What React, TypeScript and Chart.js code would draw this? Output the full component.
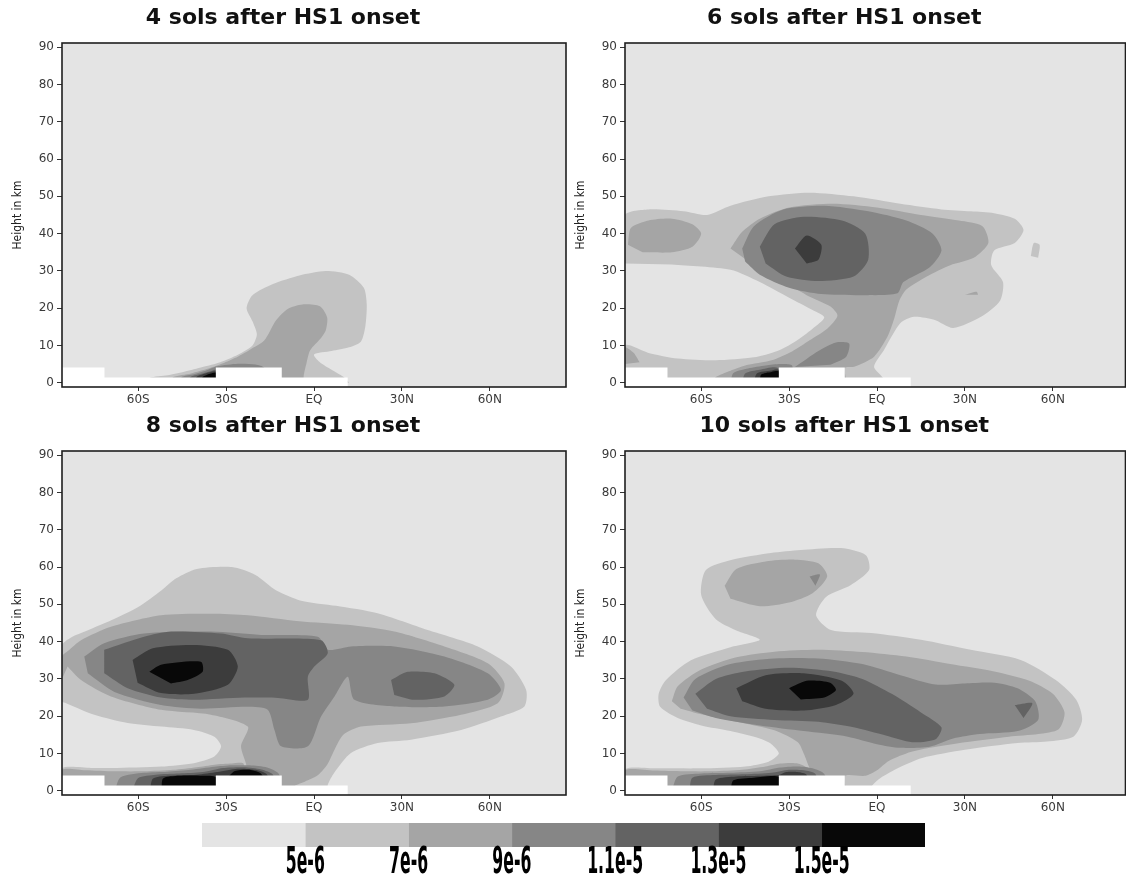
import React, { useEffect, useRef } from "react";
import { Chart, registerables } from "chart.js";
Chart.register(...registerables);

type Pt = [number, number];

const LEVEL_COLORS = ["#e4e4e4", "#c3c3c3", "#a5a5a5", "#868686", "#636363", "#3c3c3c", "#080808"];
const LEVEL_LABELS = ["5e-6", "7e-6", "9e-6", "1.1e-5", "1.3e-5", "1.5e-5"];
const PANEL_TITLES = ["4 sols after HS1 onset", "6 sols after HS1 onset", "8 sols after HS1 onset", "10 sols after HS1 onset"];
const Y_TICKS = [0, 10, 20, 30, 40, 50, 60, 70, 80, 90];
const X_TICKS = [-60, -30, 0, 30, 60];
const X_TICK_LABELS = ["60S", "30S", "EQ", "30N", "60N"];
const Y_RANGE: Pt = [-1.15, 91.15];
const X_RANGE_LEFT: Pt = [-86, 86];
const X_RANGE_RIGHT: Pt = [-86, 84.8];

// topography mask (white)
const TOPO: Pt[] = [[-88, -2], [-88, 4.1], [-71.5, 4.1], [-71.5, 1.4], [-33.5, 1.4], [-33.5, 4.1], [-11, 4.1], [-11, 1.4], [11.5, 1.4], [11.5, -2]];

// ---- 4 sols ----
const S4_L1: Pt[] = [[-57, 0], [-56, 1.3], [-50, 2], [-44, 3], [-38, 4.2], [-32, 5.5], [-26, 7.5], [-21, 10], [-19.5, 13], [-21, 16.5], [-23, 20], [-21, 23.5], [-14, 26.5], [-5, 28.8], [4, 30], [12, 29], [17, 25.5], [18, 21], [17.5, 15], [16, 11], [12, 9.5], [6, 8.5], [0, 7.6], [2, 5.5], [6, 3.5], [10, 1.6], [12, 0]];
const S4_L2: Pt[] = [[-49, 0], [-48, 1.5], [-42, 2.5], [-36, 3.8], [-31, 5.2], [-27, 6.6], [-22, 8.8], [-17, 11.3], [-13, 16.7], [-9, 19.8], [-4, 21], [2, 20.5], [4.5, 17.5], [4, 14], [2.4, 12], [-1.3, 8.7], [-2.6, 5.1], [-3.5, 2], [-3.5, 0]];
const S4_L3B: Pt[] = [[-46, 0], [-45, 1.6], [-41, 2.3], [-37, 3.2], [-33, 4.4], [-26, 5.1], [-20, 4.9], [-17, 4], [-17, 0]];
const S4_L4B: Pt[] = [[-43, 0], [-42, 1.6], [-38, 2.5], [-34.5, 3.3], [-33.5, 3.4], [-33.5, 0]];
const S4_L5B: Pt[] = [[-40.5, 0], [-40, 1.6], [-37, 2.5], [-33.5, 3], [-33.5, 0]];
const S4_L6B: Pt[] = [[-38.5, 0], [-38, 1.5], [-35.5, 2.4], [-33.5, 2.7], [-33.5, 0]];

// ---- 6 sols ----
const S6_L1: Pt[] = [[-86, 32], [-86, 45], [-78, 46.5], [-66, 46], [-58, 45], [-50, 47.5], [-37, 50], [-23, 51], [-8, 50], [8, 48], [22, 46.5], [32, 46], [40, 45.5], [47, 44], [50, 41], [47, 37.5], [40, 35.5], [39, 31.5], [43, 27], [42, 22], [35.5, 17.7], [26, 14.7], [19.5, 16.9], [12.6, 17.7], [8, 16], [2.4, 8.8], [-1, 4.3], [2, 1.3], [2, 0], [-86, 0], [-86, 10], [-78, 8], [-68, 6.5], [-55, 6], [-42, 6.8], [-34, 8.5], [-28, 11], [-22, 14.5], [-18, 17.5], [-22, 19.5], [-30, 22.8], [-40, 27], [-50, 30.3], [-70, 31.7]];
const S6_L1_SPOT: Pt[] = [[52.5, 34], [53.5, 37.5], [55.5, 37], [55, 33.5]];
const S6_L2: Pt[] = [[-50, 36], [-46, 40.5], [-40, 44], [-30, 47], [-15, 48], [0, 47], [15, 45], [28, 43.5], [36, 42], [38, 37.5], [33, 33.5], [25, 31.5], [17, 28.5], [10, 25], [7.6, 22], [5.8, 17], [3.6, 12.4], [-1, 7], [-7.8, 4.3], [-11, 4], [-11, 0], [-56, 0], [-55, 1.5], [-50, 3.2], [-45, 4.6], [-36, 6], [-29, 8.4], [-23, 11.4], [-17, 14.5], [-13.5, 18], [-16, 20.5], [-24, 23.5], [-34, 28], [-42, 31.5]];
const S6_L2_LOBE: Pt[] = [[-85, 37], [-84, 41.5], [-78, 43.5], [-70, 44], [-63, 42.5], [-60, 40], [-63, 36.5], [-70, 35], [-80, 35]];
const S6_L2_EDGE: Pt[] = [[-86, 5], [-86, 9.5], [-83, 8], [-81, 5.5]];
const S6_L2_DASH: Pt[] = [[30, 23.6], [34, 24.4], [34.5, 23.6]];
const S6_L3: Pt[] = [[-46, 36], [-42, 42], [-32, 46.5], [-18, 47.5], [-3, 46], [10, 43.5], [19, 40], [22, 35.5], [18, 31], [9, 27], [7, 24], [-3, 23.5], [-19, 23.8], [-30, 25.5], [-40, 29], [-45, 32.5]];
const S6_L3_TAIL: Pt[] = [[-28, 4.2], [-20, 8.5], [-14, 10.8], [-9.5, 10.5], [-10.5, 7], [-16, 4.8]];
const S6_L3B: Pt[] = [[-50, 0], [-49, 2.6], [-44, 3.8], [-38, 4.6], [-33, 5], [-29, 4.6], [-29, 0]];
const S6_L4: Pt[] = [[-40, 36.5], [-35, 42.5], [-25, 44.5], [-12, 43.5], [-4, 40], [-3, 33], [-8, 28.5], [-20, 27.3], [-31, 28.5], [-38, 32]];
const S6_L4B: Pt[] = [[-46, 0], [-45, 2.5], [-40, 3.5], [-34, 4], [-33.5, 0]];
const S6_L5: Pt[] = [[-28, 36], [-24, 39.5], [-19, 37], [-20, 33], [-24, 32]];
const S6_L5B: Pt[] = [[-42, 0], [-41, 2.5], [-36, 3.3], [-33.5, 3.4], [-33.5, 0]];
const S6_L6B: Pt[] = [[-40, 0], [-39.5, 2.2], [-36, 2.9], [-33.5, 3], [-33.5, 0]];

// ---- 8 sols ----
const S8_L1: Pt[] = [[-86, 0], [-86, 6], [-76, 6.1], [-69, 6.1], [-52, 6.5], [-41, 7.4], [-34, 9.2], [-31.7, 11.9], [-34, 14.5], [-41, 16.3], [-52, 17.2], [-63.6, 18.2], [-75, 20.4], [-84.6, 23.5], [-86, 24], [-86, 39], [-82, 41.5], [-79.5, 42.3], [-69, 45.8], [-60, 49.3], [-52, 53.8], [-47, 57], [-40, 59.5], [-28, 60], [-20, 57.9], [-13, 53.8], [-4.4, 51], [7.5, 49.6], [21.7, 47.6], [38.8, 43.1], [55.9, 38.7], [67.2, 33.3], [72.4, 27], [71.8, 22.6], [63.8, 19.9], [50.2, 16.3], [33.1, 13.7], [21.7, 12.8], [12.6, 10.1], [6.9, 4.8], [4.7, 1.6], [4.7, 0]];
const S8_L2: Pt[] = [[-86, 30], [-86, 36], [-84, 37.5], [-79.5, 40.4], [-69.3, 44], [-52.2, 47.1], [-35, 47.5], [-22.6, 47.1], [-5, 45.5], [11.5, 44.5], [27.4, 42.7], [44.5, 38.7], [59.3, 34.2], [65, 28.8], [62.7, 23.5], [50.2, 20.4], [33.1, 18.1], [16, 17.2], [10, 15], [7, 11], [4.5, 7], [1, 4], [-3, 2.5], [-6.5, 1.3], [-7, 0], [-23, 0], [-23, 6.5], [-24.9, 11.9], [-22.6, 17.2], [-35.2, 20.4], [-52.2, 21.7], [-69.3, 25.3], [-79.5, 29.7], [-84.1, 33.3]];
const S8_L2B: Pt[] = [[-86, 0], [-86, 5.6], [-78, 5.5], [-68, 5.2], [-58, 5.2], [-48, 5.6], [-40, 6.3], [-34, 7], [-28, 7.3], [-24, 7.2], [-24, 0]];
const S8_L3: Pt[] = [[-78.4, 36], [-71.6, 39.6], [-58, 42.2], [-35.2, 42.7], [-18.1, 41.8], [1.3, 41.3], [4.7, 37.8], [12.6, 38.7], [27.4, 38.7], [44.5, 36], [59.3, 31.5], [63.8, 27], [59.3, 24.4], [44.5, 22.6], [27.4, 22.6], [13.8, 24.4], [11.5, 30.6], [7, 25.3], [2.4, 19.9], [-2.1, 11.9], [-11.2, 11.9], [-13.5, 16.3], [-15.8, 21.7], [-22.6, 22.5], [-38.6, 22], [-52.2, 23], [-68.1, 26.5], [-77.2, 31.5]];
const S8_L3B: Pt[] = [[-68, 0], [-66, 3.6], [-58, 4.8], [-50, 5.1], [-42, 5.6], [-34, 6.4], [-28, 6.8], [-22, 6.8], [-16, 6.2], [-12, 4.5], [-11, 0]];
const S8_L4: Pt[] = [[-71.6, 37.8], [-58, 41.3], [-48.8, 42.7], [-31.7, 42.2], [-22.6, 40.9], [2.4, 40.4], [4.7, 36.9], [0.1, 33.3], [-2.1, 30.6], [-2.1, 24.4], [-12.3, 24.9], [-23.8, 25], [-40.9, 24.4], [-52.2, 25], [-63.6, 27.5], [-71.6, 31.5]];
const S8_L4R: Pt[] = [[26.3, 29.7], [32, 31.9], [41.1, 31.5], [47.9, 28.4], [44.5, 25.3], [34.2, 24.4], [27.4, 25.7]];
const S8_L4B: Pt[] = [[-62, 0], [-60, 3.4], [-54, 4.3], [-46, 4.6], [-38, 5], [-31, 6.1], [-24, 6.3], [-18, 5.7], [-14, 4.3], [-13, 0]];
const S8_L5: Pt[] = [[-61.9, 35.1], [-55, 38.2], [-41.4, 39.1], [-29.4, 37.8], [-26, 33.3], [-29.4, 28.4], [-40.9, 26], [-52.2, 26.2], [-60.2, 29]];
const S8_L5B: Pt[] = [[-56, 0], [-55, 3.2], [-50, 4], [-40, 4.3], [-33, 5], [-26, 5.9], [-20, 5.6], [-16, 4.3], [-15, 0]];
const S8_L6: Pt[] = [[-56.2, 31.9], [-52.2, 33.8], [-38.6, 34.6], [-38, 31.9], [-43.1, 29.7], [-48.8, 28.8]];
const S8_L6B: Pt[] = [[-52, 0], [-51.5, 3.3], [-46, 4], [-38, 4], [-33.5, 3.6], [-33.5, 0]];
const S8_L6B2: Pt[] = [[-29, 4], [-27, 5.3], [-22, 5.6], [-18.5, 4.8], [-17.5, 4]];

// ---- 10 sols ----
const S10_L1: Pt[] = [[-86, 0], [-86, 5.8], [-75, 6], [-60, 6], [-45, 6.5], [-37, 7.8], [-33.5, 10], [-36, 12.5], [-40, 14], [-50, 16], [-60, 17.5], [-68, 19.5], [-74, 22.5], [-74.5, 26], [-72, 29.7], [-63.5, 35], [-50, 38.5], [-40, 40.5], [-48, 43], [-55, 46], [-60, 52.5], [-58.4, 59.2], [-49.8, 61.9], [-36.2, 63.8], [-26, 64.6], [-12.3, 65.1], [-3.8, 63.2], [-2.7, 59.2], [-8.9, 55.2], [-17.4, 52], [-20.8, 47.1], [-15.7, 43.1], [-2, 42.3], [15, 40.5], [32, 37.8], [49, 35.1], [61, 29.7], [68, 24.4], [70, 19], [67, 14.5], [58, 13.2], [48, 12.8], [30, 11], [15.4, 8.8], [6.7, 5.9], [0.6, 3.1], [-1.9, 1.1], [-2, 0]];
const S10_L2: Pt[] = [[-70, 24], [-68, 28], [-60, 32.5], [-48, 35.8], [-35, 37.3], [-20, 37.8], [-5, 37.2], [10, 36], [25, 34], [40, 32], [52, 29.5], [60, 26], [64, 21], [62, 16.5], [55, 15.2], [45, 14.5], [30, 13], [18, 11.5], [10, 10], [4, 8], [0, 5.5], [-4, 4], [-11, 4], [-11, 0], [-22, 0], [-22, 4], [-23.5, 7], [-25, 10], [-27, 13], [-35, 16.2], [-48, 18.5], [-60, 20.5], [-67, 22]];
const S10_L2_LOBE: Pt[] = [[-52, 55], [-48, 59.5], [-38, 61.5], [-28, 62], [-20, 61], [-17, 57.5], [-22, 53], [-30, 50.5], [-40, 49.5], [-50, 51.5]];
const S10_L2B: Pt[] = [[-86, 0], [-86, 5.5], [-76, 5.4], [-66, 5.2], [-56, 5.2], [-46, 5.6], [-38, 6.5], [-33, 7.3], [-27, 7.3], [-22, 5], [-22, 0]];
const S10_L3: Pt[] = [[-66, 25], [-62, 30], [-50, 34], [-35, 35.5], [-20, 35.5], [-5, 34], [8, 31], [20, 28.5], [30, 28.8], [40, 29], [48, 27.5], [54, 24], [55, 19], [48, 16], [35, 15.2], [26, 14], [18, 11.8], [8, 11.5], [0, 12.5], [-10, 14.5], [-25, 16], [-40, 17.5], [-55, 19.5], [-63, 21.5]];
const S10_L3_TRI: Pt[] = [[-23, 57.5], [-19.5, 58], [-21, 55]];
const S10_L3B: Pt[] = [[-70, 0], [-68, 3.8], [-60, 4.6], [-50, 4.8], [-40, 5.2], [-33, 6.2], [-27, 6.5], [-22, 6], [-18, 4.5], [-16, 0]];
const S10_L4: Pt[] = [[-62, 26], [-55, 30], [-45, 32], [-30, 33], [-15, 32], [-5, 30], [5, 26], [15, 21], [22, 17], [20, 13.8], [12, 13], [3, 14.8], [-8, 17], [-20, 18.5], [-35, 19], [-50, 20], [-58, 22]];
const S10_L4_TRI: Pt[] = [[47, 23], [53, 23.5], [50, 19.5]];
const S10_L4B: Pt[] = [[-64, 0], [-63, 3.5], [-55, 4.2], [-45, 4.4], [-36, 4.8], [-30, 5.6], [-25, 5.5], [-21, 4.5], [-20, 0]];
const S10_L5: Pt[] = [[-48, 27.5], [-38, 31], [-25, 31.5], [-12, 29.5], [-8, 26], [-14, 23], [-25, 21.5], [-38, 22], [-46, 24]];
const S10_L5B: Pt[] = [[-56, 0], [-55, 3], [-48, 3.8], [-40, 4], [-33.5, 4.2], [-31, 5], [-27, 5], [-24, 4.2], [-24, 0]];
const S10_L6: Pt[] = [[-30, 27.5], [-24, 29.5], [-16, 29], [-14, 27], [-18, 25], [-26, 24.5]];
const S10_L6B: Pt[] = [[-50, 0], [-49, 2.8], [-42, 3.5], [-33.5, 3.7], [-33.5, 0]];

// [level, polygon] in painting order (lighter first)
const PANEL_REGIONS: [number, Pt[]][][] = [
  [[1, S4_L1], [2, S4_L2], [3, S4_L3B], [4, S4_L4B], [5, S4_L5B], [6, S4_L6B]],
  [[1, S6_L1], [1, S6_L1_SPOT], [2, S6_L2], [2, S6_L2_LOBE], [2, S6_L2_EDGE], [2, S6_L2_DASH], [3, S6_L3], [3, S6_L3_TAIL], [3, S6_L3B], [4, S6_L4], [4, S6_L4B], [5, S6_L5], [5, S6_L5B], [6, S6_L6B]],
  [[1, S8_L1], [2, S8_L2], [2, S8_L2B], [3, S8_L3], [3, S8_L3B], [4, S8_L4], [4, S8_L4R], [4, S8_L4B], [5, S8_L5], [5, S8_L5B], [6, S8_L6], [6, S8_L6B], [6, S8_L6B2]],
  [[1, S10_L1], [2, S10_L2], [2, S10_L2_LOBE], [2, S10_L2B], [3, S10_L3], [3, S10_L3_TRI], [3, S10_L3B], [4, S10_L4], [4, S10_L4_TRI], [4, S10_L4B], [5, S10_L5], [5, S10_L5B], [6, S10_L6], [6, S10_L6B]],
];

const PANEL_W = 575;
const PANEL_H = 410;

const panelFrame = {
  id: "panelFrame",
  beforeDatasetsDraw(chart: any) {
    const { ctx, chartArea: a } = chart;
    ctx.save();
    ctx.fillStyle = LEVEL_COLORS[0];
    ctx.fillRect(a.left, a.top, a.right - a.left, a.bottom - a.top);
    ctx.restore();
  },
  afterDatasetsDraw(chart: any) {
    const { ctx, chartArea: a } = chart;
    ctx.save();
    ctx.strokeStyle = "#1e1e1e";
    ctx.lineWidth = 1.6;
    ctx.strokeRect(a.left, a.top, a.right - a.left, a.bottom - a.top);
    ctx.restore();
  },
};

function Panel({ index, left, top, xRange }: { index: number; left: number; top: number; xRange: Pt }) {
  const ref = useRef<HTMLCanvasElement>(null);
  useEffect(() => {
    const regions = PANEL_REGIONS[index];
    const n = regions.length + 1;
    const datasets: any[] = regions.map(([lvl, pts], k) => ({
      data: pts.map(([x, y]) => ({ x, y })),
      fill: "shape",
      backgroundColor: LEVEL_COLORS[lvl],
      borderWidth: 0,
      pointRadius: 0,
      tension: 0.25,
      order: n - 1 - k,
    }));
    datasets.push({
      data: TOPO.map(([x, y]) => ({ x, y })),
      fill: "shape",
      backgroundColor: "#ffffff",
      borderWidth: 0,
      pointRadius: 0,
      tension: 0,
      order: 0,
    });
    const pxPerDeg = 504 / 172;
    const plotW = (xRange[1] - xRange[0]) * pxPerDeg;
    const chart = new Chart(ref.current as HTMLCanvasElement, {
      type: "line",
      data: { datasets },
      options: {
        responsive: false,
        animation: false,
        events: [],
        layout: { padding: { left: 0, right: PANEL_W - 62 - plotW, top: 0, bottom: 0 } },
        plugins: {
          legend: { display: false },
          tooltip: { enabled: false },
          title: {
            display: true,
            text: PANEL_TITLES[index],
            color: "#111",
            font: { family: '"DejaVu Sans", sans-serif', size: 22, weight: "bold", lineHeight: 1.2 },
            padding: { top: 5, bottom: 11.6 },
          },
        },
        scales: {
          x: {
            type: "linear",
            min: xRange[0],
            max: xRange[1],
            afterBuildTicks: (s: any) => {
              s.ticks = X_TICKS.map((v) => ({ value: v }));
            },
            afterFit: (s: any) => {
              s.height = PANEL_H - 387;
            },
            ticks: {
              autoSkip: false,
              maxRotation: 0,
              padding: 2,
              color: "#3a3a3a",
              font: { family: '"DejaVu Sans", sans-serif', size: 12 },
              callback: (_v: any, i: number) => X_TICK_LABELS[i],
            },
            grid: { display: true, drawOnChartArea: false, drawTicks: true, tickLength: 4, color: "#333" },
            border: { display: false },
          },
          y: {
            type: "linear",
            min: Y_RANGE[0],
            max: Y_RANGE[1],
            afterBuildTicks: (s: any) => {
              s.ticks = Y_TICKS.map((v) => ({ value: v }));
            },
            afterFit: (s: any) => {
              s.width = 62;
            },
            ticks: {
              padding: 3,
              color: "#3a3a3a",
              font: { family: '"DejaVu Sans", sans-serif', size: 12 },
              callback: (v: any) => String(v),
            },
            grid: { display: true, drawOnChartArea: false, drawTicks: true, tickLength: 5, color: "#333" },
            border: { display: false },
            title: {
              display: true,
              text: "Height in km",
              color: "#222",
              font: { family: '"DejaVu Sans Condensed", "DejaVu Sans", sans-serif', size: 12 },
              padding: { top: 11, bottom: 0 },
            },
          },
        },
      } as any,
      plugins: [panelFrame],
    });
    return () => chart.destroy();
  }, [index]);
  return (
    <canvas
      ref={ref}
      width={PANEL_W}
      height={PANEL_H}
      style={{ position: "absolute", left, top, width: PANEL_W, height: PANEL_H }}
    />
  );
}

const colorbarLabels = {
  id: "colorbarLabels",
  afterDraw(chart: any) {
    const { ctx, chartArea } = chart;
    const xs = chart.scales.x;
    ctx.save();
    ctx.fillStyle = "#000";
    ctx.textAlign = "center";
    ctx.textBaseline = "middle";
    ctx.font = 'bold 38px "DejaVu Sans Condensed", "DejaVu Sans", sans-serif';
    LEVEL_LABELS.forEach((lab, i) => {
      const x = xs.getPixelForValue(i + 1);
      ctx.save();
      ctx.translate(x, chartArea.bottom + 16);
      ctx.scale(0.46, 1);
      ctx.fillText(lab, 0, 0);
      ctx.restore();
    });
    ctx.restore();
  },
};

function ColorBar() {
  const ref = useRef<HTMLCanvasElement>(null);
  useEffect(() => {
    const chart = new Chart(ref.current as HTMLCanvasElement, {
      type: "bar",
      data: {
        labels: [""],
        datasets: LEVEL_COLORS.map((c) => ({
          data: [1],
          backgroundColor: c,
          borderWidth: 0,
          barPercentage: 1,
          categoryPercentage: 1,
        })),
      },
      options: {
        indexAxis: "y",
        responsive: false,
        animation: false,
        events: [],
        layout: { padding: { left: 202, right: 201, top: 13, bottom: 39 } },
        plugins: { legend: { display: false }, tooltip: { enabled: false } },
        scales: {
          x: { type: "linear", stacked: true, min: 0, max: LEVEL_COLORS.length, display: false },
          y: { stacked: true, display: false },
        },
      } as any,
      plugins: [colorbarLabels],
    });
    return () => chart.destroy();
  }, []);
  return <canvas ref={ref} width={1126} height={76} style={{ position: "absolute", left: 0, top: 810, width: 1126, height: 76 }} />;
}

export default function App() {
  return (
    <div style={{ position: "fixed", left: 0, top: 0, width: 1126, height: 886, overflow: "hidden", background: "#fff" }}>
      <Panel index={0} left={0} top={0} xRange={X_RANGE_LEFT} />
      <Panel index={1} left={563} top={0} xRange={X_RANGE_RIGHT} />
      <Panel index={2} left={0} top={408} xRange={X_RANGE_LEFT} />
      <Panel index={3} left={563} top={408} xRange={X_RANGE_RIGHT} />
      <ColorBar />
    </div>
  );
}
